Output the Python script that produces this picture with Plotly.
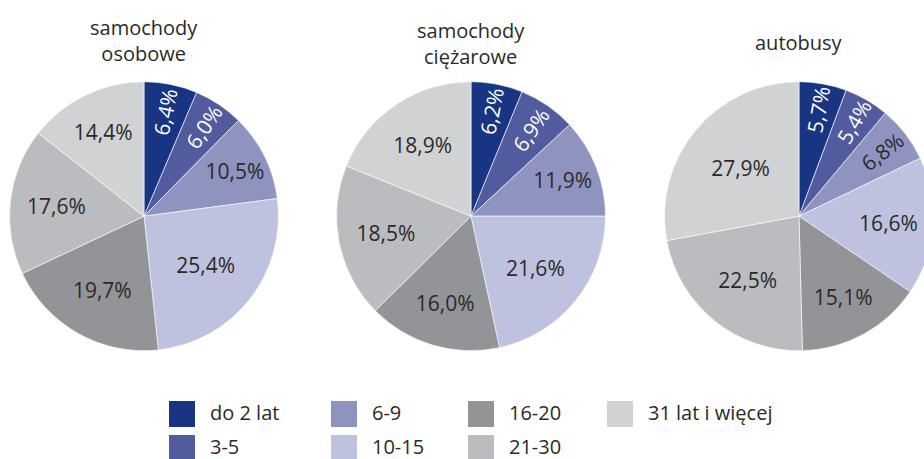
import plotly.graph_objects as go

# ---- data ----
categories = ["do 2 lat", "3-5", "6-9", "10-15", "16-20", "21-30", "31 lat i więcej"]
titles = ["samochody<br>osobowe", "samochody<br>ciężarowe", "autobusy"]
osobowe = [6.4, 6.0, 10.5, 25.4, 19.7, 17.6, 14.4]
ciezarowe = [6.2, 6.9, 11.9, 21.6, 16.0, 18.5, 18.9]
autobusy = [5.7, 5.4, 6.8, 16.6, 15.1, 22.5, 27.9]
series = [osobowe, ciezarowe, autobusy]

# ---- style / layout ----
colors = ["#173583", "#525b9d", "#8e93c0", "#bec2df", "#939497", "#bbbcbf", "#d1d2d4"]
text_colors = ["#ffffff", "#ffffff", "#2a2a2a", "#2a2a2a", "#2a2a2a", "#2a2a2a", "#2a2a2a"]
FONT = "Open Sans"
W, H = 940, 459
R = 134.5
centers_x = [144, 471, 799]
center_y = 216.2
title_y = [40.0, 44.0, 42.0]
legend_cols_x = [169, 331, 468, 607]
legend_rows_y = [401, 435]
sq = 26


def fmt(v):
    return f"{v:.1f}".replace(".", ",") + "%"


fig = go.Figure()
for vals, cx in zip(series, centers_x):
    fig.add_trace(go.Pie(
        labels=categories,
        values=vals,
        text=[fmt(v) for v in vals],
        textinfo="text",
        textposition="inside",
        insidetextorientation="auto",
        insidetextfont=dict(family=FONT, size=21, color=text_colors),
        sort=False,
        direction="clockwise",
        rotation=0,
        marker=dict(colors=colors, line=dict(color="#ffffff", width=0.6)),
        domain=dict(x=[(cx - R) / W, (cx + R) / W],
                    y=[1 - (center_y + R) / H, 1 - (center_y - R) / H]),
        showlegend=False,
        hoverinfo="label+text",
    ))

annotations = []
for t, cx, ty in zip(titles, centers_x, title_y):
    annotations.append(dict(
        text=t, x=cx / W, y=1 - ty / H, xref="paper", yref="paper",
        xanchor="center", yanchor="middle", showarrow=False,
        font=dict(family=FONT, size=20, color="#2a2a2a"),
    ))

shapes = []
for i, (cat, col) in enumerate(zip(categories, colors)):
    c, r = i // 2, i % 2
    x0 = legend_cols_x[c]
    y0 = legend_rows_y[r]
    shapes.append(dict(
        type="rect", xref="paper", yref="paper",
        x0=x0 / W, x1=(x0 + sq) / W, y0=1 - y0 / H, y1=1 - (y0 + sq) / H,
        fillcolor=col, line=dict(width=0),
    ))
    annotations.append(dict(
        text=cat, x=(x0 + 39) / W, y=1 - (y0 + 11) / H, xref="paper", yref="paper",
        xanchor="left", yanchor="middle", showarrow=False,
        font=dict(family=FONT, size=20, color="#2a2a2a"),
    ))

fig.update_layout(
    width=W, height=H, autosize=False,
    margin=dict(l=0, r=0, t=0, b=0),
    paper_bgcolor="#ffffff", plot_bgcolor="#ffffff",
    annotations=annotations, shapes=shapes,
    font=dict(family=FONT, color="#2a2a2a"),
)

fig.write_html(
    "out.html",
    config={"displayModeBar": False},
    post_script="document.body.style.margin='0';document.body.style.overflow='hidden';",
)
